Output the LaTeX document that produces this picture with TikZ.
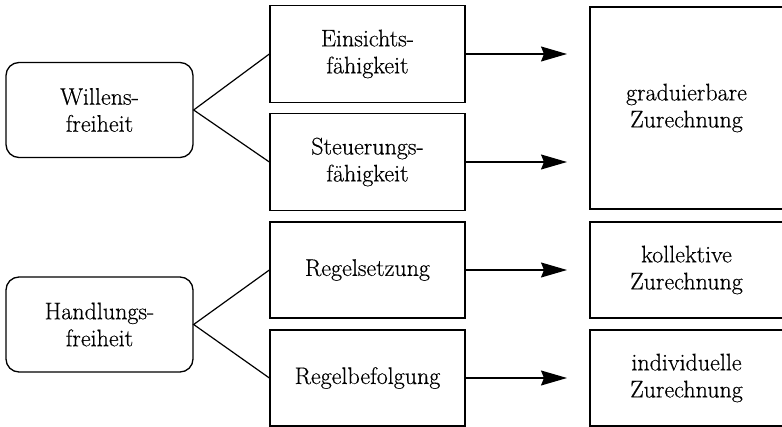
\documentclass[tikz,border=0pt]{standalone}
\usepackage{fontspec}
\newfontfamily\boxfont{Latin Modern Roman}[FakeBold=0.4]
\usetikzlibrary{arrows.meta}
\begin{document}
\begin{tikzpicture}[x=1pt,y=-1pt,
  every node/.style={font=\boxfont\fontsize{24}{27}\selectfont, align=center, inner sep=0pt},
  lbox/.style={draw, line width=1.3pt, rounded corners=13pt, minimum width=187pt, minimum height=95pt},
  mbox/.style={draw, line width=1.3pt, minimum width=195pt, minimum height=97pt},
  rbox/.style={draw, line width=1.3pt, minimum width=193pt},
  conn/.style={line width=1.2pt},
  arr/.style={line width=1.2pt, -{Stealth[length=26pt,width=15pt,inset=3pt]}}]
\useasboundingbox (0,0) rectangle (782,427);
\node[lbox] (wf) at (99.5,110) {Willens-\\freiheit};
\node[lbox] (hf) at (99.5,324.5) {Handlungs-\\freiheit};
\node[mbox] (ef) at (367.5,54) {Einsichts-\\fähigkeit};
\node[mbox] (sf) at (367.5,162) {Steuerungs-\\fähigkeit};
\node[mbox, minimum height=96pt] (rs) at (367.5,270) {Regelsetzung};
\node[mbox, minimum height=96pt] (rb) at (367.5,378) {Regelbefolgung};
\node[rbox, minimum height=202pt] (gz) at (686.5,108) {graduierbare\\Zurechnung};
\node[rbox, minimum height=96pt] (kz) at (686.5,270) {kollektive\\Zurechnung};
\node[rbox, minimum height=96pt] (iz) at (686.5,378) {individuelle\\Zurechnung};
\coordinate (a1) at (567,54);
\coordinate (a2) at (567,162);
\coordinate (a3) at (567,270);
\coordinate (a4) at (567,378);
\draw[conn] (ef.west) -- (wf.east) -- (sf.west);
\draw[conn] (rs.west) -- (hf.east) -- (rb.west);
\draw[arr] (ef.east) -- (a1);
\draw[arr] (sf.east) -- (a2);
\draw[arr] (rs.east) -- (a3);
\draw[arr] (rb.east) -- (a4);
\end{tikzpicture}
\end{document}
